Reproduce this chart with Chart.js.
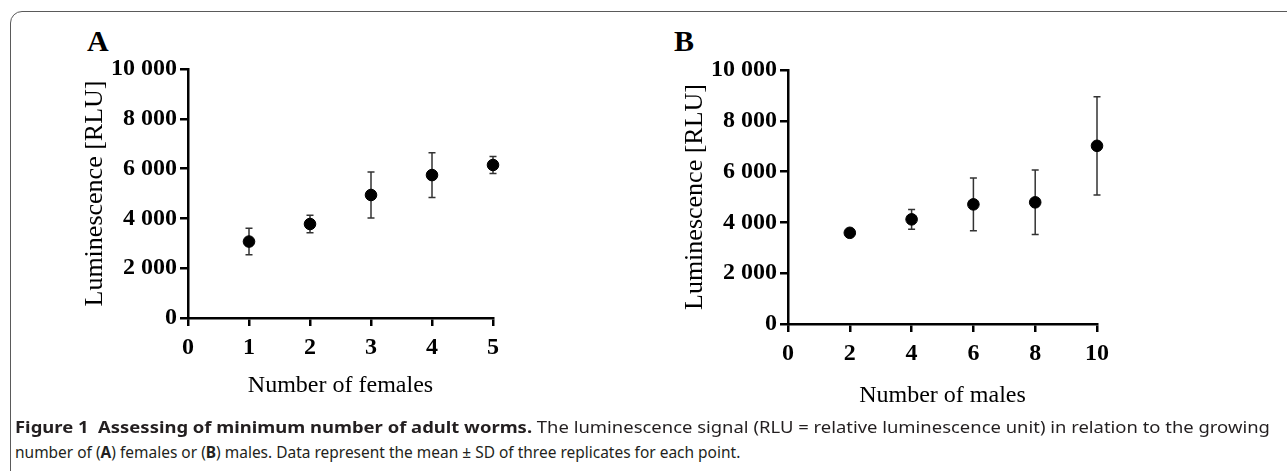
<!DOCTYPE html>
<html>
<head>
<meta charset="utf-8">
<script src="https://cdn.jsdelivr.net/npm/chart.js@4.4.1/dist/chart.umd.min.js"></script>
<style>
  body { margin: 0; background: #fff; }
  #page { position: relative; width: 1287px; height: 471px; overflow: hidden; background: #fff; }
  #frame { position: absolute; left: 10px; top: 11px; width: 1320px; height: 480px;
           border: 1.5px solid #5a5a5a; border-radius: 12px; box-sizing: border-box; }
  .panel { position: absolute; }
  .letter { position: absolute; font: bold 30px 'Liberation Serif', serif; color: #000; }
  .cap { position: absolute; left: 15px; white-space: nowrap; transform-origin: 0 50%;
         font: 16.5px 'Noto Sans', sans-serif; color: #231f20; }
  .cap b { font-weight: bold; }
</style>
</head>
<body>
<div id="page">
  <div id="frame"></div>
  <div class="letter" style="left:87px;top:24px;">A</div>
  <div class="letter" style="left:674px;top:24px;">B</div>
  <div class="panel" style="left:0;top:0;width:640px;height:420px;"><canvas id="chartA"></canvas></div>
  <div class="panel" style="left:640px;top:0;width:647px;height:430px;"><canvas id="chartB"></canvas></div>
  <div class="cap" id="cap1" style="top:415px;" data-w="1255"><b>Figure 1&nbsp; Assessing of minimum number of adult worms.</b> The luminescence signal (RLU = relative luminescence unit) in relation to the growing</div>
  <div class="cap" id="cap2" style="top:440px;" data-w="725">number of (<b>A</b>) females or (<b>B</b>) males. Data represent the mean ± SD of three replicates for each point.</div>
</div>
<script>
// panel A: number of females
const femalesX = [1, 2, 3, 4, 5];
const femalesMean = [3070, 3775, 4940, 5740, 6145];
const femalesSD = [530, 350, 920, 900, 340];
const femalesTicks = [0, 1, 2, 3, 4, 5];

// panel B: number of males
const malesX = [2, 4, 6, 8, 10];
const malesMean = [3590, 4120, 4710, 4790, 7015];
const malesSD = [60, 390, 1035, 1270, 1935];
const malesTicks = [0, 2, 4, 6, 8, 10];

const yTicks = [0, 2000, 4000, 6000, 8000, 10000];

function fmt(v) {
  return String(v).replace(/\B(?=(\d{3})+(?!\d))/g, ' ');
}

const errorBars = {
  id: 'errorBars',
  beforeDatasetsDraw(chart) {
    const ctx = chart.ctx;
    const xs = chart.scales.x, ys = chart.scales.y;
    chart.data.datasets.forEach(ds => {
      ds.data.forEach((p, i) => {
        const sd = ds.sd[i];
        const x = xs.getPixelForValue(p.x);
        const yt = ys.getPixelForValue(p.y + sd);
        const yb = ys.getPixelForValue(p.y - sd);
        ctx.save();
        ctx.strokeStyle = '#333';
        ctx.lineWidth = 1.5;
        ctx.beginPath();
        ctx.moveTo(x, yt); ctx.lineTo(x, yb);
        ctx.moveTo(x - 3.5, yt); ctx.lineTo(x + 3.5, yt);
        ctx.moveTo(x - 3.5, yb); ctx.lineTo(x + 3.5, yb);
        ctx.stroke();
        ctx.restore();
      });
    });
  }
};

function makeChart(id, xs, means, sds, xTicks, opt) {
  const tickFont = { family: 'Liberation Serif', size: 24, weight: 'bold' };
  return new Chart(document.getElementById(id), {
    type: 'scatter',
    data: {
      datasets: [{
        data: xs.map((x, i) => ({ x: x, y: means[i] })),
        sd: sds,
        backgroundColor: '#000',
        borderColor: '#000',
        pointRadius: 5.8,
        clip: false
      }]
    },
    options: {
      responsive: true,
      maintainAspectRatio: false,
      animation: false,
      layout: { padding: { left: 0, top: opt.top, right: opt.right, bottom: 0 } },
      plugins: { legend: { display: false }, tooltip: { enabled: false } },
      scales: {
        x: {
          type: 'linear',
          min: xTicks[0],
          max: xTicks[xTicks.length - 1],
          afterBuildTicks: s => { s.ticks = xTicks.map(v => ({ value: v })); },
          afterFit: s => { s.height = opt.xHeight; },
          ticks: { color: '#000', font: tickFont, padding: 7 },
          grid: { drawOnChartArea: false, drawTicks: true, tickLength: 8, color: '#000', lineWidth: 2.5 },
          border: { color: '#000', width: 2.5 },
          title: {
            display: true, text: opt.xTitle, color: '#000',
            font: { family: 'Liberation Serif', size: 24 },
            padding: { top: 0, bottom: opt.xTitlePad }
          }
        },
        y: {
          min: 0,
          max: 10000,
          afterBuildTicks: s => { s.ticks = yTicks.map(v => ({ value: v })); },
          afterFit: s => { s.width = opt.yWidth; },
          ticks: { color: '#000', font: tickFont, padding: 3, callback: v => fmt(v) },
          grid: { drawOnChartArea: false, drawTicks: true, tickLength: 8, color: '#000', lineWidth: 2.5 },
          border: { color: '#000', width: 2.5 },
          title: {
            display: true, text: 'Luminescence [RLU]', color: '#000',
            font: { family: 'Liberation Serif', size: 26 },
            padding: { top: opt.yTitlePad, bottom: 0 }
          }
        }
      }
    },
    plugins: [errorBars]
  });
}

makeChart('chartA', femalesX, femalesMean, femalesSD, femalesTicks,
  { top: 69, right: 147, xHeight: 102, yWidth: 188, xTitlePad: 20, yTitlePad: 80, xTitle: 'Number of females' });
makeChart('chartB', malesX, malesMean, malesSD, malesTicks,
  { top: 70, right: 190, xHeight: 106, yWidth: 148, xTitlePad: 20, yTitlePad: 40, xTitle: 'Number of males' });

document.querySelectorAll('.cap').forEach(el => {
  const target = Number(el.dataset.w);
  el.style.transform = 'scaleX(' + (target / el.scrollWidth) + ')';
});
</script>
</body>
</html>
